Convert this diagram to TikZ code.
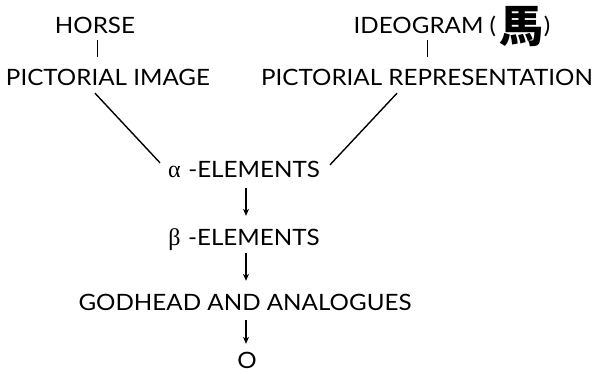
\documentclass[tikz,border=0pt]{standalone}
\usepackage{fontspec}
\setmainfont{Lato}[FakeStretch=1.075]
\newfontfamily\cjk{Noto Sans CJK TC}[BoldFont={* Black}]
\newfontfamily\grk{Liberation Serif}
\usetikzlibrary{arrows.meta}
\tikzset{
  lbl/.style={inner sep=0pt, anchor=base, font=\fontsize{22.5}{26}\selectfont, text height=16pt, text depth=0pt},
  link/.style={line width=1.4pt},
  flow/.style={line width=1.2pt, -{Stealth[length=7pt,width=6pt]}}
}
\begin{document}
\begin{tikzpicture}[x=1pt,y=-1pt]
\useasboundingbox (0,0) rectangle (600,373);
\node[lbl] (horse) at (95,33) {HORSE};
\node[lbl] (pimg) at (108,85) {PICTORIAL IMAGE};
\node[lbl] (ideo) at (452,33) {IDEOGRAM (\,\raisebox{-9pt}{\cjk\bfseries\fontsize{44}{44}\selectfont 馬})};
\node[lbl] (prep) at (427,85) {PICTORIAL REPRESENTATION};
\node[lbl] (alpha) at (244,177) {{\grk\fontsize{24}{26}\selectfont α}\,\,-ELEMENTS};
\node[lbl] (beta) at (244,245) {{\grk\fontsize{24}{26}\selectfont β}\,\,-ELEMENTS};
\node[lbl] (god) at (245,310) {GODHEAD AND ANALOGUES};
\node[lbl] (o) at (247,368) {O};
\draw[line width=1pt] ([yshift=-7pt]horse.south -| 97,0) -- ([yshift=12pt]pimg.north -| 97,0);
\draw[line width=1pt] ([yshift=-7pt]prep.north |- ideo.south) -- ([yshift=12pt]prep.north);
\draw[link] ([xshift=-13pt,yshift=-8pt]pimg.south) -- ([xshift=-8pt,yshift=-2pt]alpha.north west);
\draw[link] ([xshift=-30pt,yshift=-8pt]prep.south) -- ([xshift=10pt,yshift=-4pt]alpha.north east);
\draw[flow] ([yshift=-11pt]alpha.south -| 246,0) -- ([yshift=13pt]beta.north -| 246,0);
\draw[flow] ([yshift=-8pt]beta.south -| 246,0) -- ([yshift=13pt]god.north -| 246,0);
\draw[flow] ([yshift=-10pt]god.south -| 246,0) -- ([yshift=8pt]o.north -| 246,0);
\end{tikzpicture}
\end{document}
